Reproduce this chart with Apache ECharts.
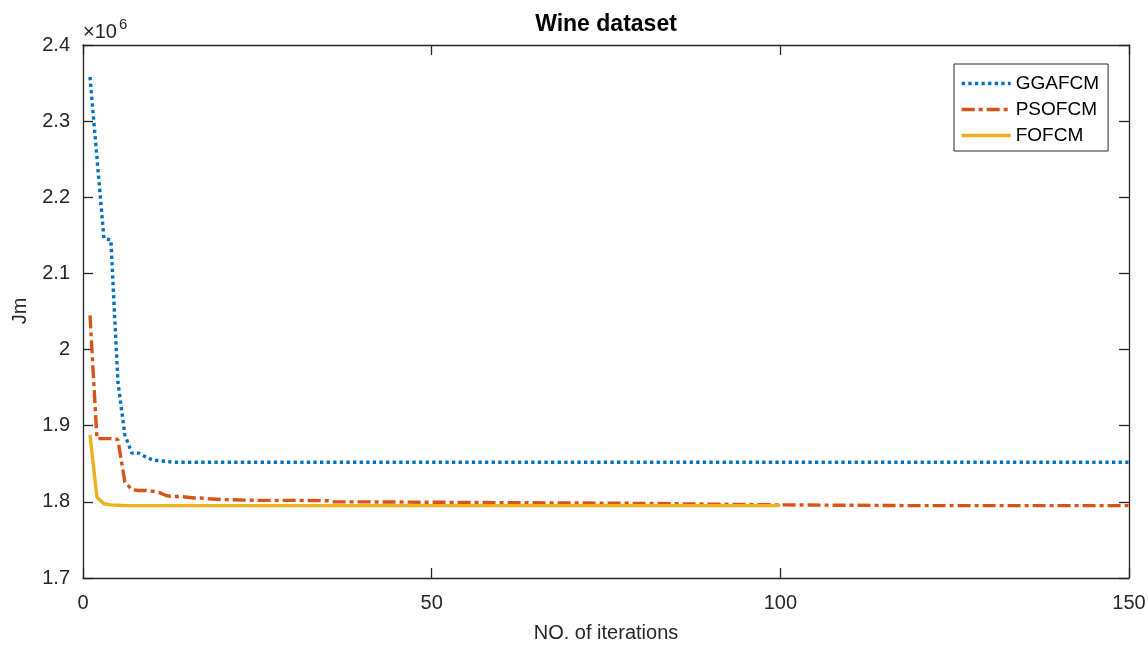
<!DOCTYPE html>
<html>
<head>
<meta charset="utf-8">
<script src="https://cdn.jsdelivr.net/npm/echarts@6/dist/echarts.min.js"></script>
<style>
  html, body { margin: 0; padding: 0; background: #fff; }
  #main { width: 1148px; height: 647px; }
</style>
</head>
<body>
<div id="main"></div>
<script>
// iterations and Jm values (x 10^6)
var ggaIter = [1, 2, 3, 4, 5, 6, 7, 8, 9, 10, 11, 12, 13, 20, 50, 100, 150];
var ggaJm = [2.358, 2.252, 2.146, 2.144, 1.958, 1.888, 1.864, 1.864, 1.859, 1.855, 1.854, 1.853, 1.852, 1.852, 1.852, 1.852, 1.852];

var psoIter = [1, 2, 3, 4, 5, 6, 7, 8, 9, 10, 11, 12, 13, 14, 15, 16, 17, 18, 20, 25, 30, 35, 36, 40, 50, 60, 70, 80, 90, 100, 110, 120, 150];
var psoJm = [2.045, 1.883, 1.883, 1.883, 1.882, 1.826, 1.816, 1.815, 1.815, 1.814, 1.812, 1.808, 1.807, 1.807, 1.806, 1.805, 1.805, 1.804, 1.803, 1.802, 1.802, 1.8015, 1.800, 1.800, 1.7995, 1.799, 1.7985, 1.798, 1.797, 1.796, 1.7955, 1.795, 1.795];

var foIter = [1, 2, 3, 4, 5, 6, 10, 50, 100];
var foJm = [1.888, 1.806, 1.7975, 1.796, 1.7955, 1.795, 1.795, 1.795, 1.795];

var xTicks = [0, 50, 100, 150];
var seriesNames = ['GGAFCM', 'PSOFCM', 'FOFCM'];

function pairs(xs, ys) {
  return xs.map(function (x, i) { return [x, ys[i]]; });
}

var chart = echarts.init(document.getElementById('main'));
var font = 'Liberation Sans, Arial, Helvetica, sans-serif';
var axisColor = '#262626';

// matlab-like box: all four sides, ticks pointing in
function boxAxis(extra) {
  return Object.assign({
    axisLine: { show: true, onZero: false, lineStyle: { color: axisColor, width: 1.3 } },
    axisTick: { show: true, inside: true, length: 10, lineStyle: { color: axisColor, width: 1.3 } },
    splitLine: { show: false }
  }, extra);
}

chart.setOption({
  animation: false,
  grid: { left: 83, right: 19, top: 45, bottom: 69, outerBoundsMode: 'none' },
  legend: {
    orient: 'vertical',
    left: 954,
    top: 64,
    data: seriesNames,
    itemWidth: 49,
    itemHeight: 14,
    itemGap: 7,
    padding: [10, 9, 6, 6],
    borderColor: '#262626',
    borderWidth: 1,
    backgroundColor: '#fff',
    itemStyle: { opacity: 0 },
    lineStyle: { width: 3.4 },
    textStyle: { fontFamily: font, fontSize: 19, color: '#000' }
  },
  xAxis: [
    boxAxis({
      type: 'value', min: 0, max: 150, interval: 50,
      axisLabel: { fontFamily: font, fontSize: 20, color: axisColor, margin: 15, customValues: xTicks }
    }),
    boxAxis({
      type: 'value', min: 0, max: 150, interval: 50, position: 'top',
      axisLabel: { show: false }
    })
  ],
  yAxis: [
    boxAxis({
      type: 'value', min: 1.7, max: 2.4, interval: 0.1,
      axisLabel: {
        fontFamily: font, fontSize: 20, color: axisColor, margin: 13,
        formatter: function (v) { return String(+v.toFixed(1)); }
      }
    }),
    boxAxis({
      type: 'value', min: 1.7, max: 2.4, interval: 0.1, position: 'right',
      axisLabel: { show: false }
    })
  ],
  graphic: [
    { type: 'text', x: 606, y: 25, style: { text: 'Wine dataset', font: 'bold 23px ' + font, fill: '#000', align: 'center', verticalAlign: 'middle' } },
    { type: 'text', x: 606, y: 633, style: { text: 'NO. of iterations', font: '20px ' + font, fill: axisColor, align: 'center', verticalAlign: 'middle' } },
    { type: 'text', x: 20, y: 311, rotation: Math.PI / 2, style: { text: 'Jm', font: '20px ' + font, fill: axisColor, align: 'center', verticalAlign: 'middle' } },
    { type: 'text', x: 83, y: 42, style: { text: '\u00d710', font: '20px ' + font, fill: axisColor, align: 'left', verticalAlign: 'bottom' } },
    { type: 'text', x: 119, y: 32, style: { text: '6', font: '15px ' + font, fill: axisColor, align: 'left', verticalAlign: 'bottom' } }
  ],
  series: [
    {
      name: 'GGAFCM', type: 'line', symbol: 'none', data: pairs(ggaIter, ggaJm),
      lineStyle: { color: '#0072BD', width: 3.4, type: [3.3, 3.3], cap: 'butt' },
      itemStyle: { color: '#0072BD' }
    },
    {
      name: 'PSOFCM', type: 'line', symbol: 'none', data: pairs(psoIter, psoJm),
      lineStyle: { color: '#D95319', width: 3.4, type: [13, 4, 4, 4], cap: 'butt' },
      itemStyle: { color: '#D95319' }
    },
    {
      name: 'FOFCM', type: 'line', symbol: 'none', data: pairs(foIter, foJm),
      lineStyle: { color: '#EDB120', width: 3.4, cap: 'butt' },
      itemStyle: { color: '#EDB120' }
    }
  ]
});
</script>
</body>
</html>
